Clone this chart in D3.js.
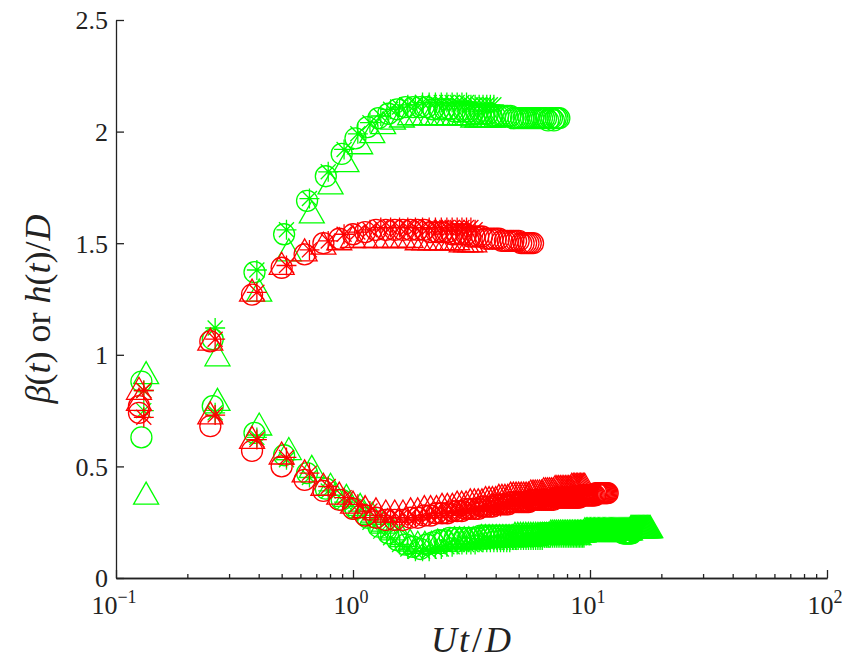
<!DOCTYPE html>
<html>
<head>
<meta charset="utf-8">
<script src="https://cdn.jsdelivr.net/npm/d3@7"></script>
<style>
  body { margin: 0; background: #fff; }
  svg { display: block; }
  svg text { font-family: "Liberation Serif", "DejaVu Serif", serif; fill: #222; }
</style>
</head>
<body>
<svg id="chart" width="848" height="668"></svg>
<script>
// ---- axis ticks ----
const xMajorTicks = [0.1, 1, 10, 100];
const xTickExponents = ["\u22121", "0", "1", "2"];
const yTicks = [0, 0.5, 1, 1.5, 2, 2.5];
const yTickLabels = ["0", "0.5", "1", "1.5", "2", "2.5"];

// ---- sampling interval (Ut/D between samples) of each run ----
const stepGreenCircle = 0.128;
const stepGreenTriangle = 0.134;
const stepGreenStar = 0.131;
const stepRedCircle = 0.125;
const stepRedTriangle = 0.125;
const stepRedStar = 0.131;

// ---- upper branch: h(t)/D ----
const greenCircleUpper = [
  0.88,1.07,1.37,1.54,1.69,1.80,1.90,1.97,2.02,2.06,
  2.08,2.10,2.11,2.11,2.11,2.11,2.10,2.10,2.10,2.10,
  2.09,2.09,2.09,2.09,2.08,2.08,2.08,2.08,2.08,2.07,
  2.07,2.07,2.07,2.07,2.07,2.07,2.06,2.06,2.06,2.06,
  2.06,2.06,2.06,2.06,2.06,2.06,2.06,2.06,2.06,2.06,
  2.06,2.05,2.06,2.06,2.05,2.06,2.06,2.06];
const greenTriangleUpper = [
  0.92,1.00,1.29,1.47,1.64,1.77,1.87,1.95,2.00,2.04,
  2.06,2.07,2.08,2.08,2.08,2.08,2.08,2.08,2.08,2.08,
  2.08,2.08,2.08,2.07,2.07,2.07,2.07,2.07,2.07,2.07];
const greenStarUpper = [
  0.84,1.12,1.38,1.56,1.70,1.82,1.92,1.99,2.04,2.07,
  2.10,2.11,2.12,2.12,2.13,2.13,2.13,2.13,2.13,2.13,
  2.13,2.13,2.13,2.12,2.12,2.12,2.12,2.12,2.12,2.12];
const redCircleUpper = [
  0.77,1.06,1.27,1.39,1.45,1.50,1.52,1.54,1.55,1.56,
  1.56,1.56,1.56,1.56,1.56,1.56,1.55,1.55,1.55,1.55,
  1.54,1.54,1.54,1.54,1.53,1.53,1.53,1.53,1.52,1.52,
  1.52,1.52,1.52,1.51,1.51,1.51,1.51,1.51,1.51,1.51,
  1.50,1.50,1.50,1.50,1.50,1.50];
const redTriangleUpper = [
  0.85,1.07,1.29,1.41,1.47,1.50,1.52,1.53,1.53,1.53,
  1.53,1.53,1.53,1.53,1.52,1.52,1.52,1.52,1.52,1.52,
  1.52,1.52,1.51,1.51,1.51,1.51];
const redStarUpper = [
  0.84,1.07,1.28,1.40,1.47,1.51,1.54,1.55,1.56,1.57,
  1.57,1.57,1.57,1.57,1.57,1.57,1.57,1.57,1.57,1.57,
  1.57,1.57,1.57,1.57,1.56];

// ---- lower branch: beta(t) ----
const greenCircleLower = [
  0.63,0.77,0.65,0.55,0.47,0.40,0.35,0.31,0.27,0.23,
  0.20,0.17,0.15,0.14,0.13,0.15,0.16,0.17,0.17,0.18,
  0.18,0.18,0.18,0.18,0.18,0.18,0.19,0.19,0.19,0.19,
  0.19,0.19,0.19,0.19,0.19,0.19,0.19,0.19,0.19,0.19,
  0.19,0.19,0.19,0.19,0.19,0.19,0.19,0.19,0.20,0.20,
  0.20,0.20,0.20,0.20,0.20,0.20,0.20,0.20,0.20,0.20,
  0.20,0.20,0.20,0.20,0.20,0.20,0.20,0.20,0.20,0.20,
  0.21,0.21,0.21,0.21,0.21,0.21,0.21,0.21,0.21,0.21,
  0.21,0.21,0.21,0.21,0.21,0.21,0.21,0.21,0.21,0.21,
  0.21,0.21,0.21,0.21,0.21,0.21,0.21,0.21,0.21,0.21,
  0.21,0.21,0.21,0.21,0.21,0.21,0.21,0.20,0.20,0.20,
  0.20,0.20,0.20,0.20,0.20,0.20,0.20];
const greenTriangleLower = [
  0.38,0.80,0.69,0.58,0.50,0.42,0.37,0.33,0.29,0.25,
  0.22,0.19,0.17,0.16,0.16,0.16,0.17,0.17,0.17,0.18,
  0.18,0.18,0.18,0.18,0.18,0.19,0.19,0.19,0.19,0.19,
  0.19,0.19,0.19,0.19,0.19,0.20,0.20,0.20,0.20,0.20,
  0.20,0.20,0.20,0.20,0.20,0.20,0.20,0.20,0.20,0.20,
  0.21,0.21,0.21,0.21,0.21,0.21,0.21,0.21,0.21,0.21,
  0.21,0.21,0.21,0.21,0.21,0.21,0.21,0.21,0.21,0.21,
  0.22,0.22,0.22,0.22,0.22,0.22,0.22,0.22,0.22,0.22,
  0.22,0.22,0.22,0.22,0.22,0.22,0.22,0.22,0.22,0.22,
  0.22,0.22,0.22,0.22,0.22,0.22,0.22,0.22,0.22,0.22,
  0.22,0.22,0.22,0.22,0.22,0.22,0.22,0.22,0.22,0.22,
  0.23,0.23,0.23,0.23,0.23,0.23,0.23,0.23,0.23,0.23,
  0.23,0.23,0.23,0.23,0.23,0.23,0.23,0.23,0.23,0.23,
  0.23,0.23,0.23,0.23];
const greenStarLower = [
  0.75,0.74,0.63,0.53,0.45,0.39,0.34,0.30,0.25,0.21,
  0.18,0.15,0.13,0.12,0.12,0.12,0.13,0.13,0.14,0.14,
  0.15,0.15,0.15,0.15,0.15,0.16,0.16,0.16,0.16,0.16,
  0.16,0.16,0.16,0.16,0.16,0.17,0.17,0.17,0.17,0.17,
  0.17,0.17,0.17,0.17,0.17,0.17,0.17,0.17,0.18,0.18,
  0.18,0.18,0.18,0.18,0.18,0.18,0.18,0.18,0.18,0.18,
  0.18,0.18,0.18,0.18,0.18,0.18,0.18,0.18,0.18,0.18,
  0.18,0.18];
const redCircleLower = [
  0.74,0.68,0.57,0.50,0.44,0.39,0.35,0.31,0.28,0.27,
  0.26,0.26,0.26,0.27,0.27,0.28,0.28,0.29,0.29,0.29,
  0.30,0.30,0.30,0.31,0.31,0.31,0.31,0.32,0.32,0.32,
  0.32,0.33,0.33,0.33,0.33,0.33,0.34,0.34,0.34,0.34,
  0.34,0.34,0.34,0.34,0.35,0.35,0.35,0.35,0.35,0.35,
  0.35,0.35,0.35,0.35,0.35,0.35,0.36,0.36,0.36,0.36,
  0.36,0.36,0.36,0.36,0.36,0.36,0.36,0.36,0.36,0.36,
  0.36,0.36,0.37,0.37,0.37,0.37,0.37,0.37,0.37,0.37,
  0.37,0.37,0.37,0.37,0.38,0.38,0.38,0.38,0.38,0.38,
  0.38,0.38,0.38,0.38,0.38];
const redTriangleLower = [
  0.80,0.74,0.63,0.56,0.48,0.42,0.38,0.34,0.32,0.31,
  0.30,0.30,0.30,0.31,0.31,0.32,0.32,0.32,0.33,0.33,
  0.33,0.34,0.34,0.34,0.35,0.35,0.35,0.35,0.36,0.36,
  0.36,0.36,0.37,0.37,0.37,0.37,0.38,0.38,0.38,0.38,
  0.38,0.38,0.38,0.38,0.39,0.39,0.39,0.39,0.39,0.39,
  0.40,0.40,0.40,0.40,0.40,0.40,0.41,0.41,0.41,0.41,
  0.41,0.41,0.41,0.41,0.41,0.41,0.42,0.42,0.42,0.42,
  0.42,0.42,0.42,0.42,0.42,0.42];
const redStarLower = [
  0.72,0.73,0.62,0.54,0.47,0.41,0.36,0.33,0.30,0.28,
  0.27,0.27,0.27,0.27,0.28,0.28,0.29,0.29,0.29,0.30,
  0.30,0.30,0.30,0.31,0.31,0.31,0.31,0.32,0.32,0.32,
  0.32,0.32,0.33,0.33,0.33,0.33,0.34,0.34,0.34,0.34,
  0.34,0.34,0.34,0.34,0.35,0.35,0.35,0.35,0.35,0.35,
  0.35,0.35,0.36,0.36,0.36,0.36,0.36,0.36,0.36,0.36,
  0.36,0.36,0.37,0.37,0.37,0.37,0.37,0.37,0.37,0.37,
  0.37,0.37];

// ---- marker shapes ----
const triangleMarker = {
  draw(ctx) {
    const w = 12.5, h = 11;
    ctx.moveTo(0, -h); ctx.lineTo(w, h); ctx.lineTo(-w, h); ctx.closePath();
  }
};
const starMarker = {
  draw(ctx) {
    const r = 10, d = 7.5;
    ctx.moveTo(-r, 0); ctx.lineTo(r, 0);
    ctx.moveTo(0, -r); ctx.lineTo(0, r);
    ctx.moveTo(-d, -d); ctx.lineTo(d, d);
    ctx.moveTo(-d, d); ctx.lineTo(d, -d);
  }
};
const circleMarker = {
  draw(ctx) { ctx.moveTo(10.5, 0); ctx.arc(0, 0, 10.5, 0, 2 * Math.PI); }
};

const GREEN = "#00ff00", RED = "#ff0000";

const series = [
  { color: GREEN, marker: circleMarker,   step: stepGreenCircle,   values: greenCircleUpper },
  { color: GREEN, marker: circleMarker,   step: stepGreenCircle,   values: greenCircleLower },
  { color: GREEN, marker: triangleMarker, step: stepGreenTriangle, values: greenTriangleUpper },
  { color: GREEN, marker: triangleMarker, step: stepGreenTriangle, values: greenTriangleLower },
  { color: GREEN, marker: starMarker,     step: stepGreenStar,     values: greenStarUpper },
  { color: GREEN, marker: starMarker,     step: stepGreenStar,     values: greenStarLower },
  { color: RED,   marker: circleMarker,   step: stepRedCircle,     values: redCircleUpper },
  { color: RED,   marker: circleMarker,   step: stepRedCircle,     values: redCircleLower },
  { color: RED,   marker: triangleMarker, step: stepRedTriangle,   values: redTriangleUpper },
  { color: RED,   marker: triangleMarker, step: stepRedTriangle,   values: redTriangleLower },
  { color: RED,   marker: starMarker,     step: stepRedStar,       values: redStarUpper },
  { color: RED,   marker: starMarker,     step: stepRedStar,       values: redStarLower }
];

// ---- layout ----
const svg = d3.select("#chart");
const plotLeft = 116, plotRight = 827, plotTop = 20, plotBottom = 578;
const x = d3.scaleLog().domain([0.1, 100]).range([plotLeft, plotRight]);
const y = d3.scaleLinear().domain([0, 2.5]).range([plotBottom, plotTop]);

// markers
const plot = svg.append("g");
series.forEach(s => {
  const sym = d3.symbol().type(s.marker);
  plot.append("g")
    .attr("fill", "none")
    .attr("stroke", s.color)
    .attr("stroke-width", 1.3)
    .selectAll("path")
    .data(s.values.map((v, i) => ({ t: s.step * (i + 1), v })))
    .join("path")
    .attr("transform", d => `translate(${x(d.t)},${y(d.v)})`)
    .attr("d", sym());
});

// x axis (ticks pointing into the plot)
const xMinor = [];
[0.1, 1, 10].forEach(dec => { for (let k = 2; k <= 9; k++) xMinor.push(dec * k); });
const xAxisG = svg.append("g").attr("transform", `translate(0,${plotBottom})`);
xAxisG.append("g")
  .call(d3.axisBottom(x).tickValues(xMinor).tickSizeInner(-4).tickSizeOuter(0).tickFormat(""));
xAxisG.append("g")
  .call(d3.axisBottom(x).tickValues(xMajorTicks).tickSizeInner(-8).tickSizeOuter(0).tickFormat(""));
xAxisG.selectAll("path.domain, line").attr("stroke", "#222").attr("stroke-width", 1.3);

const xLab = svg.append("g");
xMajorTicks.forEach((t, i) => {
  const txt = xLab.append("text")
    .attr("x", x(t) - 2).attr("y", 614)
    .attr("text-anchor", "middle")
    .attr("font-size", 26);
  txt.append("tspan").text("10");
  txt.append("tspan").attr("dy", -11).attr("font-size", 18).text(xTickExponents[i]);
});

// y axis
const yAxisG = svg.append("g").attr("transform", `translate(${plotLeft},0)`)
  .call(d3.axisLeft(y).tickValues(yTicks).tickSizeInner(-8).tickSizeOuter(0)
    .tickPadding(8).tickFormat((d, i) => yTickLabels[i]));
yAxisG.selectAll("path.domain, line").attr("stroke", "#222").attr("stroke-width", 1.3);
yAxisG.selectAll("text").attr("font-size", 26).attr("dy", "0.34em");

// axis titles
const xTitle = svg.append("text")
  .attr("x", 471).attr("y", 652)
  .attr("text-anchor", "middle")
  .attr("font-size", 36);
xTitle.append("tspan").attr("font-style", "italic").text("U");
xTitle.append("tspan").attr("font-style", "italic").attr("dx", 2).text("t");
xTitle.append("tspan").attr("dx", 3).text("/");
xTitle.append("tspan").attr("font-style", "italic").attr("dx", 3).text("D");

const yTitle = svg.append("text")
  .attr("transform", "translate(50,309) rotate(-90)")
  .attr("text-anchor", "middle")
  .attr("font-size", 36);
yTitle.append("tspan").attr("font-style", "italic").text("\u03B2");
yTitle.append("tspan").text("(");
yTitle.append("tspan").attr("font-style", "italic").text("t");
yTitle.append("tspan").text(") or ");
yTitle.append("tspan").attr("font-style", "italic").text("h");
yTitle.append("tspan").text("(");
yTitle.append("tspan").attr("font-style", "italic").text("t");
yTitle.append("tspan").text(")/");
yTitle.append("tspan").attr("font-style", "italic").attr("dx", 1).text("D");
</script>
</body>
</html>
